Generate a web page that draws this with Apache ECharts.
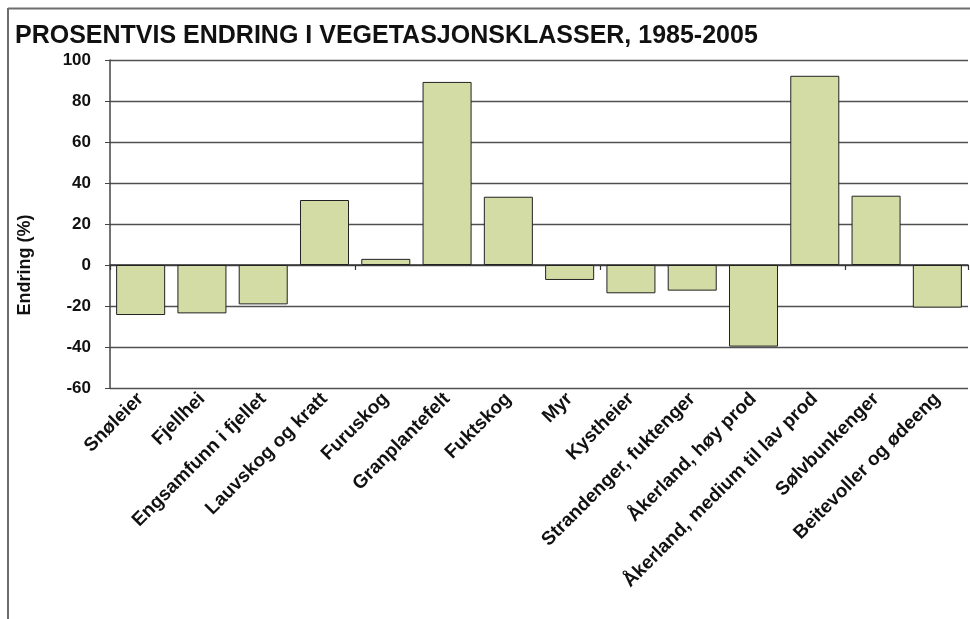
<!DOCTYPE html>
<html>
<head>
<meta charset="utf-8">
<title>Prosentvis endring i vegetasjonsklasser</title>
<script src="https://cdn.jsdelivr.net/npm/echarts@6/dist/echarts.min.js"></script>
<style>
  html, body { margin: 0; padding: 0; background: #ffffff; }
  #chart { width: 970px; height: 619px; }
</style>
</head>
<body>
<div id="chart"></div>
<script>
// Vegetation classes and their percentage change 1985-2005
const categories = [
  'Snøleier',
  'Fjellhei',
  'Engsamfunn i fjellet',
  'Lauvskog og kratt',
  'Furuskog',
  'Granplantefelt',
  'Fuktskog',
  'Myr',
  'Kystheier',
  'Strandenger, fuktenger',
  'Åkerland, høy prod',
  'Åkerland, medium til lav prod',
  'Sølvbunkenger',
  'Beitevoller og ødeeng'
];
const changePercent = [
  -24.4, -23.6, -19.2, 31.7, 3.0, 89.3, 33.3,
  -7.3, -13.8, -12.5, -39.8, 92.3, 33.8, -20.8
];
const yTicks = { min: -60, max: 100, step: 20 };

const FONT = "'Liberation Sans', Arial, sans-serif";

const chart = echarts.init(document.getElementById('chart'), null, { renderer: 'canvas' });

chart.setOption({
  backgroundColor: '#ffffff',
  animation: false,
  title: {
    text: 'PROSENTVIS ENDRING I VEGETASJONSKLASSER, 1985-2005',
    left: 10,
    top: 19,
    textStyle: { fontFamily: FONT, fontSize: 25, fontWeight: 'bold', color: '#111' }
  },
  grid: { left: 110, right: 2, top: 60, bottom: 231, containLabel: false },
  graphic: [
    // page frame: top and left rules
    { type: 'line', shape: { x1: 8, y1: 8.5, x2: 970, y2: 8.5 }, style: { stroke: '#6d6d6d', lineWidth: 2 } },
    { type: 'line', shape: { x1: 8, y1: 8, x2: 8, y2: 619 }, style: { stroke: '#6d6d6d', lineWidth: 2 } },
    // y-axis title
    {
      type: 'text', x: 25, y: 265, rotation: Math.PI / 2,
      style: {
        text: 'Endring (%)', fontFamily: FONT, fontSize: 18, fontWeight: 'bold',
        fill: '#111', align: 'center', verticalAlign: 'middle'
      }
    }
  ],
  xAxis: [
    {
      // category labels along the bottom of the plot
      type: 'category',
      data: categories,
      position: 'bottom',
      axisLine: { show: false, onZero: false },
      axisTick: { show: false },
      axisLabel: {
        interval: 0, rotate: 45, margin: 8,
        fontFamily: FONT, fontSize: 19, fontWeight: 'bold', color: '#111'
      }
    },
    {
      // zero line with ticks between the categories
      type: 'category',
      data: categories,
      position: 'bottom',
      axisLine: { show: true, onZero: true, lineStyle: { color: '#333', width: 1.5 } },
      axisTick: { show: true, inside: false, length: 5, lineStyle: { color: '#333', width: 1.2 } },
      axisLabel: { show: false }
    }
  ],
  yAxis: {
    type: 'value',
    min: yTicks.min,
    max: yTicks.max,
    interval: yTicks.step,
    axisLine: { show: true, lineStyle: { color: '#444', width: 1.5 } },
    axisTick: { show: true, length: 5, lineStyle: { color: '#444', width: 1 } },
    axisLabel: { margin: 19, fontFamily: FONT, fontSize: 17, fontWeight: 'bold', color: '#111' },
    splitLine: { show: true, lineStyle: { color: '#505050', width: 1.3 } }
  },
  series: [{
    type: 'bar',
    xAxisIndex: 0,
    data: changePercent,
    barCategoryGap: '20%',
    itemStyle: { color: '#d4dca6', borderColor: '#222', borderWidth: 1 }
  }]
});
</script>
</body>
</html>
